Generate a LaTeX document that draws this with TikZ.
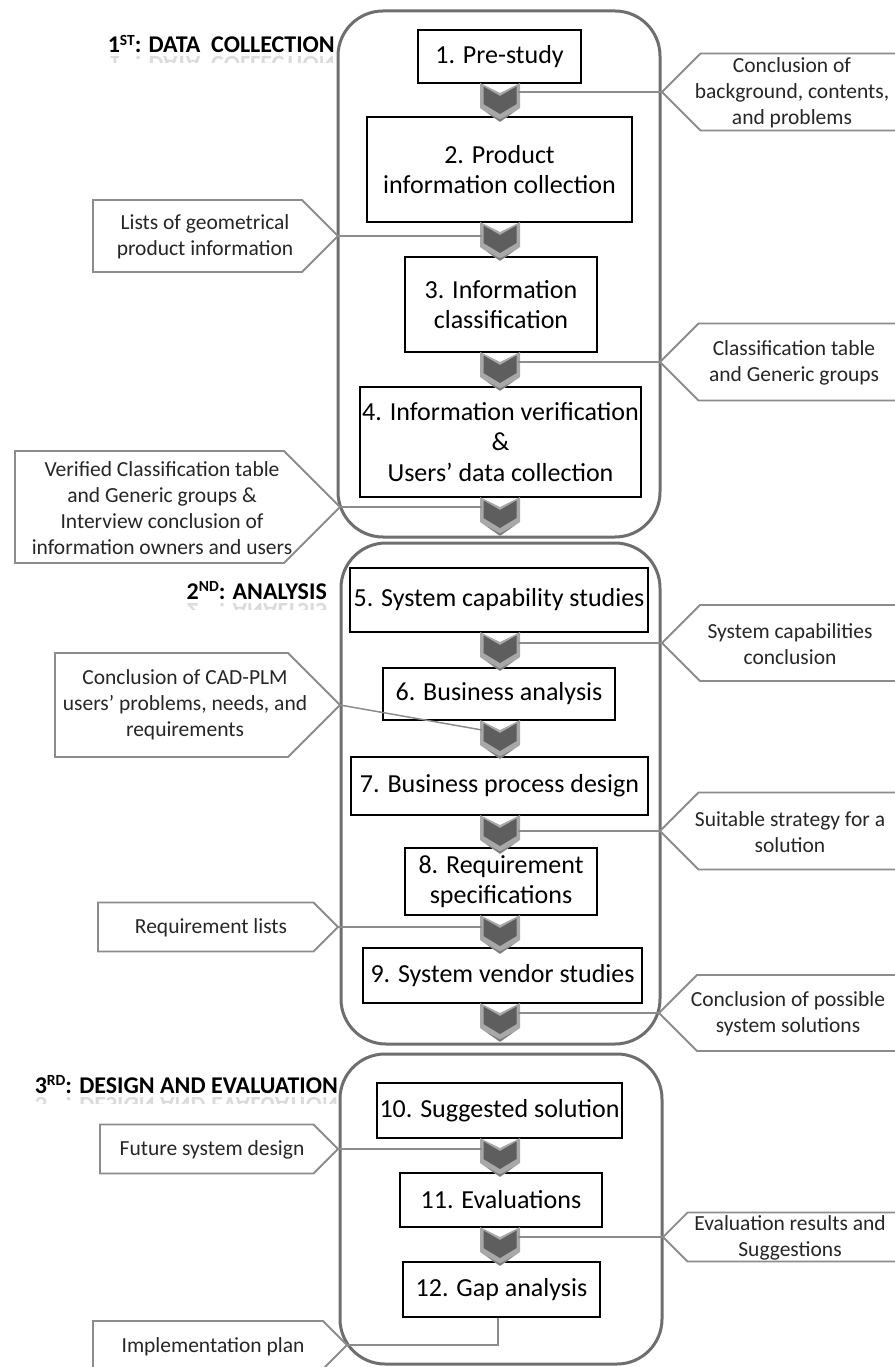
\documentclass[tikz,border=0pt]{standalone}
\usepackage{fontspec}
\setmainfont{Carlito}
\definecolor{grpgray}{HTML}{6E6E6E}
\definecolor{calgray}{HTML}{8C8C8C}
\definecolor{txtgray}{HTML}{262626}
\definecolor{chevlight}{HTML}{A8A8A8}
\definecolor{chevdark}{HTML}{5E5E5E}
\definecolor{chevmid}{HTML}{7A7A7A}
\newcommand\mysup[1]{\raisebox{0.62ex}{\fontsize{15.5}{15.5}\selectfont #1}}
\begin{document}
\begin{tikzpicture}[x=1pt,y=-1pt,
 grp/.style={draw=grpgray, line width=3pt, rounded corners=45pt},
 stepbox/.style={draw=black, line width=1.8pt, fill=white, align=center,
   font=\fontsize{26}{30.5}\selectfont, inner sep=0pt},
 callout/.style={draw=calgray, line width=1.8pt, fill=white},
 caltext/.style={align=center, font=\fontsize{21.5}{26}\selectfont, text=txtgray, inner sep=0pt},
 conn/.style={draw=calgray, line width=1.5pt},
 title/.style={font=\fontsize{24}{28}\selectfont\bfseries, anchor=base east, inner sep=0pt},
 refl/.style={title, yscale=-1, text=black!14},
 pics/chev/.style={code={
   \fill[chevlight] (-20,0) -- (0,10) -- (20,0) -- (20,25) -- (0,39) -- (-20,25) -- cycle;
   \fill[chevdark] (-16.5,3.5) -- (0,13) -- (16.5,3.5) -- (16.5,21) -- (0,31) -- (-16.5,21) -- cycle;
   \fill[chevmid] (-13,29.5) -- (0,36.5) -- (13,29.5) -- (0,38.5) -- cycle;
   \coordinate (-L) at (-18,10);
   \coordinate (-R) at (18,10);
 }}
]
\useasboundingbox (0,0) rectangle (894,1367);

% ---------- group containers ----------
\draw[grp] (338,11) rectangle (660,537);
\draw[grp] (341,543) rectangle (660,1044);
\draw[grp] (340,1054) rectangle (662,1364);

% ---------- titles ----------
\node[title] (t1) at (335,53) {1\mysup{ST}: DATA\ \ COLLECTION};
\begin{scope}
 \clip (10,55) rectangle (338,63);
 \node[refl] (t1r) at (335,57) {1\mysup{ST}: DATA\ \ COLLECTION};
\end{scope}
\node[title] (t2) at (327,599) {2\mysup{ND}: ANALYSIS};
\begin{scope}
 \clip (10,601) rectangle (338,609);
 \node[refl] (t2r) at (327,603) {2\mysup{ND}: ANALYSIS};
\end{scope}
\node[title] (t3) at (338,1093) {3\mysup{RD}: DESIGN AND EVALUATION};
\begin{scope}
 \clip (10,1095) rectangle (340,1103);
 \node[refl] (t3r) at (338,1097) {3\mysup{RD}: DESIGN AND EVALUATION};
\end{scope}

% ---------- step boxes ----------
\node[stepbox, minimum width=163pt, minimum height=53pt] (b1) at (499.5,56.5) {1. Pre-study};
\node[stepbox, minimum width=265pt, minimum height=105pt] (b2) at (499.5,169.5) {2. Product\\information collection};
\node[stepbox, minimum width=192pt, minimum height=95pt] (b3) at (501,304.5) {3. Information\\classification};
\node[stepbox, minimum width=281pt, minimum height=110pt] (b4) at (500.5,442) {4. Information verification\\\&\\Users’ data collection};
\node[stepbox, minimum width=298pt, minimum height=64pt] (b5) at (499,600) {5. System capability studies};
\node[stepbox, minimum width=232pt, minimum height=52pt] (b6) at (499,694) {6. Business analysis};
\node[stepbox, minimum width=297pt, minimum height=58pt] (b7) at (499.5,786) {7. Business process design};
\node[stepbox, minimum width=192pt, minimum height=67pt] (b8) at (501,881.5) {8. Requirement\\specifications};
\node[stepbox, minimum width=279pt, minimum height=55pt] (b9) at (502.5,975.5) {9. System vendor studies};
\node[stepbox, minimum width=245pt, minimum height=55pt] (b10) at (499.5,1110.5) {10. Suggested solution};
\node[stepbox, minimum width=202pt, minimum height=54pt] (b11) at (501,1200) {11. Evaluations};
\node[stepbox, minimum width=197pt, minimum height=55pt] (b12) at (501.5,1289.5) {12. Gap analysis};

% ---------- chevrons ----------
\pic (c1) at (500,83) {chev};
\pic (c2) at (500,222) {chev};
\pic (c3) at (500,352) {chev};
\pic (c4) at (500,497) {chev};
\pic (c5) at (500,632) {chev};
\pic (c6) at (500,720) {chev};
\pic (c7) at (500,815) {chev};
\pic (c8) at (500,915) {chev};
\pic (c9) at (500,1003) {chev};
\pic (c10) at (500,1138) {chev};
\pic (c11) at (500,1227) {chev};

% ---------- callout tips ----------
\coordinate (r1) at (662,92);
\coordinate (r2) at (660,362);
\coordinate (r3) at (662,643);
\coordinate (r4) at (660,831);
\coordinate (r5) at (659,1013);
\coordinate (r6) at (663,1237);
\coordinate (l1) at (338,236);
\coordinate (l2) at (340,507);
\coordinate (l3) at (340,705);
\coordinate (l4) at (338,927);
\coordinate (l5) at (338,1149);
\coordinate (l6) at (347,1345);

% ---------- connectors ----------
\draw[conn] (r1 -| c1-R) -- (r1);
\draw[conn] (l1) -- (l1 -| c2-L);
\draw[conn] (r2 -| c3-R) -- (r2);
\draw[conn] (l2) -- (l2 -| c4-L);
\draw[conn] (r3 -| c5-R) -- (r3);
\draw[conn] (l3) -- (c6-L);
\draw[conn] (r4 -| c7-R) -- (r4);
\draw[conn] (l4) -- (l4 -| c8-L);
\draw[conn] (r5 -| c9-R) -- (r5);
\draw[conn] (l5) -- (l5 -| c10-L);
\draw[conn] (r6 -| c11-R) -- (r6);
\draw[conn] (b12.south -| 498,0) -- (498,1345) -- (l6);

% ---------- right callouts ----------
\draw[callout] (r1) -- ++(38.5,-38.5) -- (900,53.5) -- (900,130.5) -- (700.5,130.5) -- cycle;
\node[caltext] (n1) at (792,93) {Conclusion of\\background, contents,\\and problems};
\draw[callout] (r2) -- ++(38.5,-38.5) -- (900,323.5) -- (900,400.5) -- (698.5,400.5) -- cycle;
\node[caltext] (n2) at (794,363) {Classification table\\and Generic groups};
\draw[callout] (r3) -- ++(38,-38) -- (900,605) -- (900,681) -- (700,681) -- cycle;
\node[caltext] (n3) at (790,644) {System capabilities\\conclusion};
\draw[callout] (r4) -- ++(38.5,-38.5) -- (900,792.5) -- (900,869.5) -- (698.5,869.5) -- cycle;
\node[caltext] (n4) at (790,832) {Suitable strategy for a\\solution};
\draw[callout] (r5) -- ++(38,-38) -- (900,975) -- (900,1051) -- (697,1051) -- cycle;
\node[caltext] (n5) at (788,1014) {Conclusion of possible\\system solutions};
\draw[callout] (r6) -- ++(24.5,-24.5) -- (900,1212.5) -- (900,1261.5) -- (687.5,1261.5) -- cycle;
\node[caltext] (n6) at (790,1238) {Evaluation results and\\Suggestions};

% ---------- left callouts ----------
\draw[callout] (93,200) -- (302,200) -- (l1) -- (302,272) -- (93,272) -- cycle;
\node[caltext] (m1) at (205,237) {Lists of geometrical\\product information};
\draw[callout] (15,451) -- (284,451) -- (l2) -- (284,563) -- (15,563) -- cycle;
\node[caltext] (m2) at (162,508) {Verified Classification table\\and Generic groups \&\\Interview conclusion of\\information owners and users};
\draw[callout] (55,653) -- (288,653) -- (l3) -- (288,757) -- (55,757) -- cycle;
\node[caltext] (m3) at (185,705) {Conclusion of CAD-PLM\\users’ problems, needs, and\\requirements};
\draw[callout] (98,902.5) -- (313.5,902.5) -- (l4) -- (313.5,951.5) -- (98,951.5) -- cycle;
\node[caltext] (m4) at (211,928) {Requirement lists};
\draw[callout] (100,1124.5) -- (313.5,1124.5) -- (l5) -- (313.5,1173.5) -- (100,1173.5) -- cycle;
\node[caltext] (m5) at (212,1150) {Future system design};
\draw[callout] (93,1321) -- (323,1321) -- (l6) -- (323,1369) -- (93,1369) -- cycle;
\node[caltext] (m6) at (213,1347) {Implementation plan};
\end{tikzpicture}
\end{document}
